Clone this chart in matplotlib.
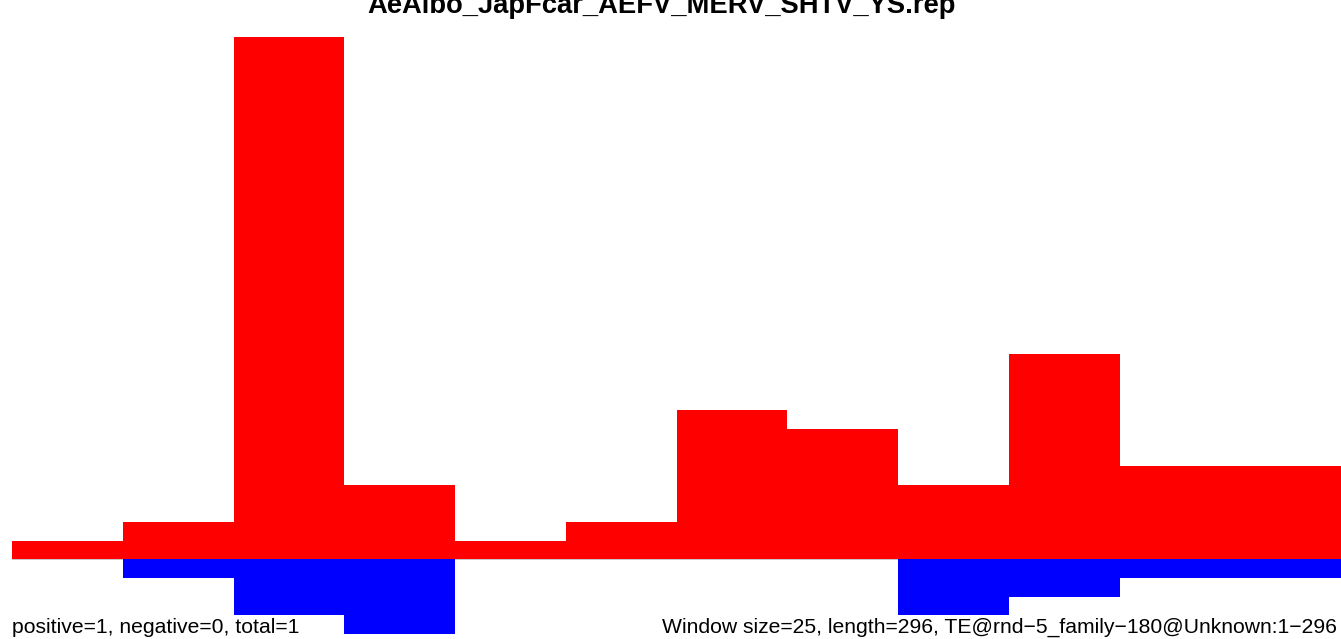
import matplotlib
matplotlib.use("Agg")
import matplotlib.pyplot as plt

window_starts = [0, 25, 50, 75, 100, 125, 150, 175, 200, 225, 250, 275]
positive = [1, 2, 28, 4, 1, 2, 8, 7, 4, 11, 5, 5]
negative = [0, 1, 3, 4, 0, 0, 0, 0, 3, 2, 1, 1]
window = 25
title = "AeAlbo_JapFcar_AEFV_MERV_SHTV_YS.rep"
left_note = "positive=1, negative=0, total=1"
right_note = "Window size=25, length=296, TE@rnd\u22125_family\u2212180@Unknown:1\u2212296"

W, H = 1341, 639
fig = plt.figure(figsize=(W / 100, H / 100), dpi=100)
ax = fig.add_axes([12 / W, 5 / H, 1329 / W, 597 / H])
ax.bar(window_starts, positive, width=window, align="edge", color="#ff0000", linewidth=0)
ax.bar(window_starts, [-v for v in negative], width=window, align="edge", color="#0000ff", linewidth=0)
ax.axhline(0, color="#bbbbbb", lw=0.6, zorder=0)
ax.set_xlim(0, 300)
ax.set_ylim(-4, 28)
ax.axis("off")

fig.text(662 / W, 1 - 13 / H, title, ha="center", va="baseline", fontsize=19.7,
         fontweight="bold", family="Liberation Sans")
fig.text(12 / W, 6 / H, left_note, ha="left", va="baseline", fontsize=15.2,
         family="Liberation Sans")
fig.text(1337 / W, 6 / H, right_note, ha="right", va="baseline", fontsize=15.2,
         family="Liberation Sans")

fig.savefig("out.png", dpi=100)
